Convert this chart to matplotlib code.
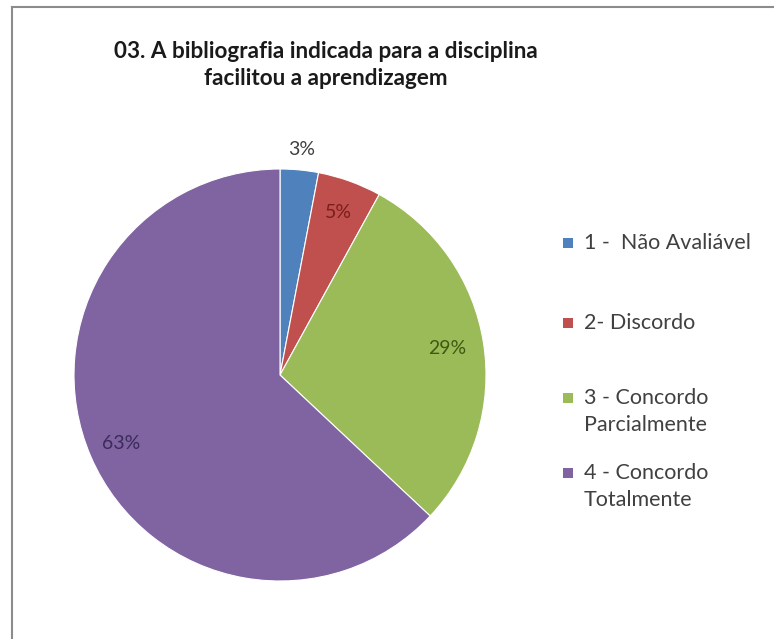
import numpy as np
import matplotlib
matplotlib.use("Agg")
import matplotlib.pyplot as plt
from matplotlib.patches import Rectangle
from matplotlib.lines import Line2D

categories = ["1 -  Não Avaliável", "2- Discordo", "3 - Concordo\nParcialmente", "4 - Concordo\nTotalmente"]
values = [3, 5, 29, 63]
colors = ["#4F81BD", "#C0504D", "#9BBB59", "#8064A2"]
label_colors = ["#404040", "#7a1f1c", "#3d5a12", "#3b2a5a"]
label_radius = [1.1, 0.84, 0.82, 0.84]
title = "03. A bibliografia indicada para a disciplina\nfacilitou a aprendizagem"

W, H = 774, 639
fig = plt.figure(figsize=(W / 100, H / 100), dpi=100)
fig.patch.set_facecolor("white")

# pie: centre (280, 375) px, radius 206 px
cx, cy, r = 280, 375, 206
ax = fig.add_axes([(cx - r) / W, (H - cy - r) / H, 2 * r / W, 2 * r / H])
wedges, _ = ax.pie(values, colors=colors, startangle=90, counterclock=False,
                   wedgeprops=dict(linewidth=0.8, edgecolor="white"))
ax.set_xlim(-1, 1)
ax.set_ylim(-1, 1)
ax.set_aspect("equal")
ax.axis("off")

for w, v, rad, c in zip(wedges, values, label_radius, label_colors):
    ang = np.deg2rad((w.theta1 + w.theta2) / 2)
    ax.text(rad * np.cos(ang), rad * np.sin(ang), f"{v}%", ha="center", va="center",
            fontsize=14, color=c, family="Lato", clip_on=False)

fig.text(326 / W, 1 - 65 / H, title, ha="center", va="center",
         fontsize=16.2, fontweight="bold", color="#1a1a1a", family="Lato",
         linespacing=1.4)

# legend drawn by hand so the marker sits on the first text line
leg_y = [243, 323, 398, 473]
for lab, col, y in zip(categories, colors, leg_y):
    fig.patches.append(Rectangle((563 / W, 1 - (y + 5) / H), 10 / W, 10 / H,
                                 transform=fig.transFigure, facecolor=col, edgecolor="none"))
    fig.text(584 / W, 1 - (y - 10) / H, lab, ha="left", va="top", fontsize=15.5,
             color="#404040", family="Lato", linespacing=1.45)

# chart frame (top and left edges visible)
fig.add_artist(Line2D([12 / W, 1], [1 - 7 / H, 1 - 7 / H], color="#8c8c8c", lw=1.5))
fig.add_artist(Line2D([12 / W, 12 / W], [0, 1 - 7 / H], color="#8c8c8c", lw=1.5))

fig.savefig("out.png", dpi=100, facecolor="white")
